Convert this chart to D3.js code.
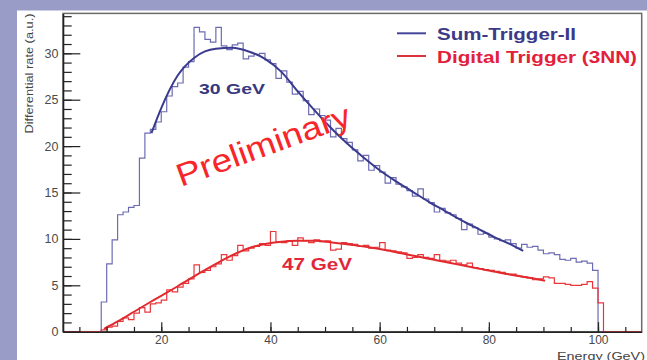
<!DOCTYPE html>
<html>
<head>
<meta charset="utf-8">
<script src="https://cdn.jsdelivr.net/npm/d3@7"></script>
<style>
  html, body { margin: 0; padding: 0; background: #9a9cc8; }
  svg { display: block; }
  text { font-family: "Liberation Sans", Arial, Helvetica, sans-serif; }
</style>
</head>
<body>
<svg id="chart" width="647" height="360"></svg>
<script>
// Energy axis range and bin layout (1 GeV bins, first bin starts at 9 GeV)
const xRange = [2, 108];
const yRange = [0, 34.3];
const binStart = 9;
const binWidth = 1;
const xMajorTicks = [20, 40, 60, 80, 100];
const yMajorTicks = [0, 5, 10, 15, 20, 25, 30];

// Sum-Trigger-II differential rate per bin (9..100 GeV)
const sumTrigger = [
  3.2, 7.3, 9.9, 12.6, 12.9, 13.4, 13.6, 18.7, 21.4, 21.8,
  22.6, 23.7, 25.4, 26.4, 26.8, 28.5, 29.1, 32.8, 32.3, 31.5,
  31.2, 32.8, 30.8, 30.4, 30.9, 31.1, 29.4, 29.7, 29.9, 30.0,
  29.3, 28.9, 27.3, 28.1, 26.9, 25.6, 25.9, 24.9, 23.4, 24.0,
  23.3, 22.8, 21.0, 21.9, 20.8, 20.4, 19.6, 18.4, 19.0, 17.4,
  17.9, 17.2, 16.0, 16.6, 15.9, 15.6, 15.2, 14.6, 15.4, 14.3,
  13.9, 12.9, 13.3, 12.8, 12.6, 12.2, 11.0, 11.6, 11.2, 10.5,
  10.6, 10.2, 10.0, 9.8, 9.9, 9.5, 9.0, 9.4, 9.1, 9.2,
  8.8, 8.4, 8.5, 8.3, 7.8, 7.7, 7.9, 7.5, 7.6, 7.4,
  6.6
];

// Digital Trigger (3NN) differential rate per bin (9..101 GeV)
const digitalTrigger = [
  0.2, 0.5, 0.6, 1.1, 1.5, 1.3, 2.0, 2.6, 2.1, 3.0,
  3.1, 3.4, 4.5, 4.3, 4.8, 5.2, 5.7, 7.2, 6.4, 6.6,
  7.0, 7.3, 8.3, 7.7, 8.2, 9.3, 8.7, 9.0, 9.2, 9.5,
  9.3, 10.8, 9.7, 9.6, 9.8, 9.3, 10.1, 9.8, 9.6, 9.9,
  9.7, 9.8, 8.8, 8.9, 9.6, 9.5, 9.4, 9.2, 9.3, 9.0,
  9.1, 9.6, 8.8, 8.7, 8.6, 8.5, 7.9, 8.0, 8.3, 8.0,
  7.9, 8.3, 7.7, 7.6, 7.7, 7.4, 7.2, 7.4, 6.9, 6.8,
  6.7, 6.6, 6.5, 6.4, 6.2, 6.2, 6.0, 5.9, 5.8, 5.6,
  5.7, 5.9, 5.8, 5.2, 5.2, 5.1, 5.0, 5.0, 5.1, 5.4,
  4.7, 3.1
];

// Fitted curves, sampled as [energy, rate]
const sumFit = [
  [18.2, 21.4], [20, 24.1], [23, 27.6], [26, 29.5], [28, 30.2], [30, 30.5],
  [33, 30.6], [36, 30.2], [39, 29.4], [42, 28.0], [45, 25.9], [48, 23.9],
  [51, 22.0], [54, 20.3], [57, 18.8], [60, 17.4], [63, 16.2], [66, 15.1],
  [69, 14.0], [72, 13.0], [75, 12.0], [78, 11.1], [81, 10.2], [84, 9.4],
  [86.3, 8.7]
];
const digitalFit = [
  [9.5, 0.3], [12, 1.1], [15, 2.15], [18, 3.2], [21, 4.2], [24, 5.25],
  [27, 6.3], [30, 7.3], [33, 8.25], [36, 9.0], [39, 9.45], [42, 9.7],
  [45, 9.8], [48, 9.8], [51, 9.65], [55, 9.35], [58, 9.1], [61, 8.8],
  [64, 8.45], [67, 8.1], [70, 7.75], [73, 7.4], [76, 7.05], [79, 6.7],
  [82, 6.35], [85, 6.05], [88, 5.75], [90.3, 5.5]
];

const seriesNames = ["Sum-Trigger-II", "Digital Trigger (3NN)"];
const peakLabels = ["30 GeV", "47 GeV"];

const svg = d3.select("#chart");

// white pad
svg.append("rect").attr("x", 17).attr("y", 10.5).attr("width", 630).attr("height", 350)
  .attr("fill", "#ffffff");

const x = d3.scaleLinear().domain(xRange).range([63, 641.7]);
const y = d3.scaleLinear().domain(yRange).range([331.7, 13.4]);

// frame
svg.append("rect")
  .attr("x", x(xRange[0])).attr("y", y(yRange[1]))
  .attr("width", x(xRange[1]) - x(xRange[0]))
  .attr("height", y(yRange[0]) - y(yRange[1]))
  .attr("fill", "none").attr("stroke", "#6a6a6a").attr("stroke-width", 1.5);

// histogram outline: zero baseline, then one step per bin
function histPoints(values) {
  const pts = [[xRange[0], 0], [binStart, 0]];
  values.forEach((v, i) => {
    const lo = binStart + i * binWidth;
    pts.push([lo, v], [lo + binWidth, v]);
  });
  const end = binStart + values.length * binWidth;
  pts.push([end, 0], [xRange[1], 0]);
  return pts;
}

const line = d3.line().x(d => x(d[0])).y(d => y(d[1]));
const smooth = d3.line().x(d => x(d[0])).y(d => y(d[1])).curve(d3.curveMonotoneX);

const plot = svg.append("g");

plot.append("path").attr("d", line(histPoints(sumTrigger)))
  .attr("fill", "none").attr("stroke", "#6c6cb2").attr("stroke-width", 1.2);
plot.append("path").attr("d", line(histPoints(digitalTrigger)))
  .attr("fill", "none").attr("stroke", "#e8383c").attr("stroke-width", 1.2);
plot.append("path").attr("d", smooth(sumFit))
  .attr("fill", "none").attr("stroke", "#3a3a8e").attr("stroke-width", 2);
plot.append("path").attr("d", smooth(digitalFit))
  .attr("fill", "none").attr("stroke", "#e22a2e").attr("stroke-width", 2);

// axes (ticks drawn inward)
const axisColor = "#222";
const labelColor = "#4a4a4a";

const xMinor = d3.range(5, 106, 5);
svg.append("g").attr("transform", `translate(0,${y(0)})`)
  .call(d3.axisBottom(x).tickValues(xMinor).tickSize(-4.8).tickSizeOuter(0).tickFormat(""))
  .call(g => g.select(".domain").remove())
  .call(g => g.selectAll("line").attr("stroke", axisColor).attr("stroke-width", 1.2));
svg.append("g").attr("transform", `translate(0,${y(0)})`)
  .call(d3.axisBottom(x).tickValues(xMajorTicks).tickSize(-9.5).tickSizeOuter(0).tickPadding(3.5))
  .call(g => g.select(".domain").attr("stroke", axisColor).attr("stroke-width", 1.6))
  .call(g => g.selectAll("line").attr("stroke", axisColor).attr("stroke-width", 1.2))
  .call(g => g.selectAll("text").attr("fill", labelColor).attr("font-size", 12)
    .attr("font-family", "'Liberation Sans', Arial, sans-serif"));

const yMinor = d3.range(1, 35, 1);
svg.append("g").attr("transform", `translate(${x(xRange[0])},0)`)
  .call(d3.axisLeft(y).tickValues(yMinor).tickSize(-8.7).tickSizeOuter(0).tickFormat(""))
  .call(g => g.select(".domain").remove())
  .call(g => g.selectAll("line").attr("stroke", axisColor).attr("stroke-width", 1.2));
svg.append("g").attr("transform", `translate(${x(xRange[0])},0)`)
  .call(d3.axisLeft(y).tickValues(yMajorTicks).tickSize(-17.3).tickSizeOuter(0).tickPadding(4.5))
  .call(g => g.select(".domain").attr("stroke", axisColor).attr("stroke-width", 1.6))
  .call(g => g.selectAll("line").attr("stroke", axisColor).attr("stroke-width", 1.2))
  .call(g => g.selectAll("text").attr("fill", labelColor).attr("font-size", 12.5)
    .attr("font-family", "'Liberation Sans', Arial, sans-serif"));

// axis titles
svg.append("text")
  .attr("transform", "translate(32.5,13.5) rotate(-90)")
  .attr("text-anchor", "end")
  .attr("font-size", 10.5).attr("fill", "#444")
  .attr("textLength", 120).attr("lengthAdjust", "spacingAndGlyphs")
  .text("Differential rate (a.u.)");

svg.append("text")
  .attr("x", 557).attr("y", 359.5)
  .attr("font-size", 11.5).attr("fill", "#444")
  .attr("textLength", 88).attr("lengthAdjust", "spacingAndGlyphs")
  .text("Energy (GeV)");

// legend
const legendColors = ["#45459a", "#d8363c"];
const legendText = ["#3a3a88", "#e2203a"];
const legendY = [33.3, 56];
const legendLen = [139, 200];
seriesNames.forEach((name, i) => {
  svg.append("line").attr("x1", 397).attr("x2", 426)
    .attr("y1", legendY[i]).attr("y2", legendY[i])
    .attr("stroke", legendColors[i]).attr("stroke-width", 2);
  svg.append("text").attr("x", 437).attr("y", legendY[i] + 6.8)
    .attr("font-size", 17).attr("font-weight", "bold").attr("fill", legendText[i])
    .attr("textLength", legendLen[i]).attr("lengthAdjust", "spacingAndGlyphs")
    .text(name);
});

// peak annotations
svg.append("text").attr("x", 199).attr("y", 94)
  .attr("font-size", 15.5).attr("font-weight", "bold").attr("fill", "#38387e")
  .attr("textLength", 66).attr("lengthAdjust", "spacingAndGlyphs")
  .text(peakLabels[0]);
svg.append("text").attr("x", 282).attr("y", 270)
  .attr("font-size", 16).attr("font-weight", "bold").attr("fill", "#e0283a")
  .attr("textLength", 70).attr("lengthAdjust", "spacingAndGlyphs")
  .text(peakLabels[1]);

// watermark
svg.append("text")
  .attr("transform", "translate(181,187) rotate(-20)")
  .attr("font-size", 32).attr("fill", "#f8262a")
  .attr("textLength", 183).attr("lengthAdjust", "spacingAndGlyphs")
  .text("Preliminary");
</script>
</body>
</html>
